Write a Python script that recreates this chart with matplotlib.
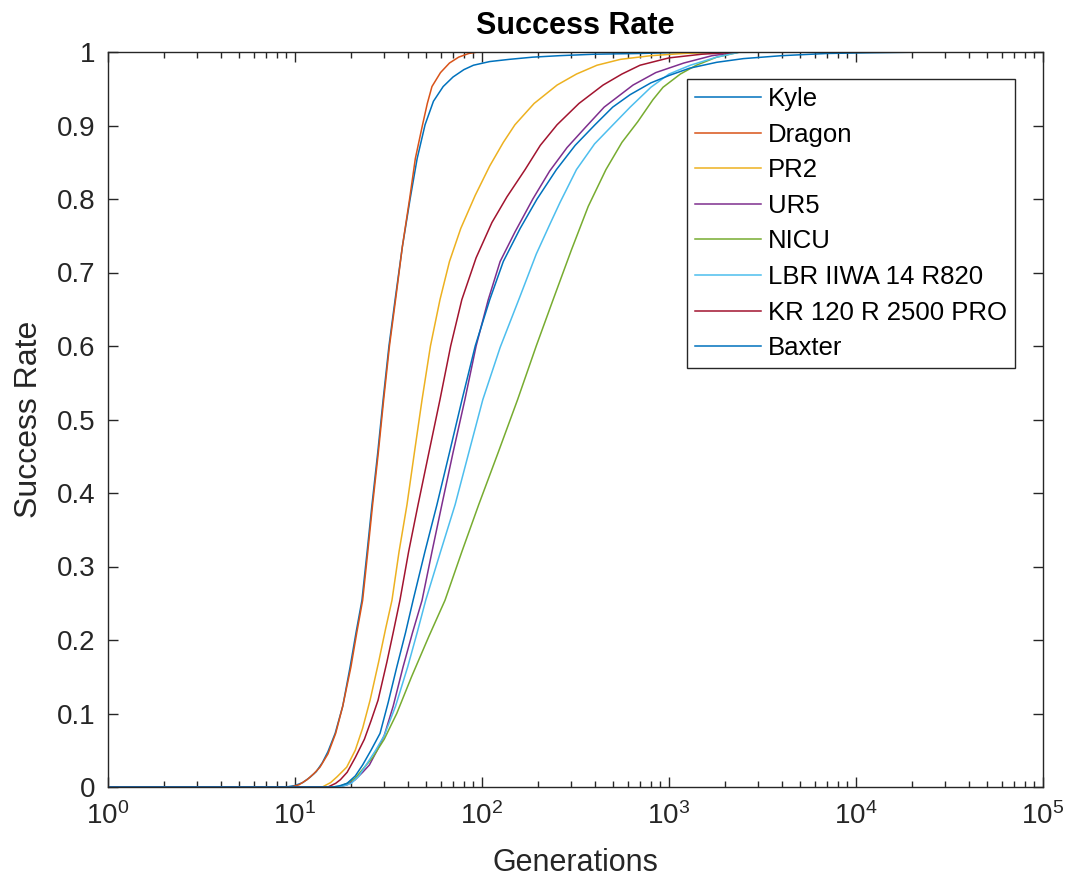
import matplotlib
matplotlib.use("Agg")
import matplotlib.pyplot as plt
from matplotlib.ticker import LogLocator, NullFormatter

plt.rcParams['font.family'] = ['Liberation Sans', 'DejaVu Sans']

labels = ["Kyle", "Dragon", "PR2", "UR5", "NICU", "LBR IIWA 14 R820", "KR 120 R 2500 PRO", "Baxter"]
colors = ["#0072BD", "#D95319", "#EDB120", "#7E2F8E", "#77AC30", "#4DBEEE", "#A2142F", "#0072BD"]

kyle_gen = [1, 9, 10, 11, 12, 13, 14, 15, 16.4, 18, 19.7, 21.2, 22.8, 24.3, 25.8, 27.7, 29.6, 31.8,
            34.3, 37.5, 41.2, 45, 49.6, 55, 62, 70, 80, 90, 110, 140, 187, 260, 400, 700, 1000, 2000, 5000, 25000]
kyle_rate = [0, 0, 0.002, 0.006, 0.013, 0.021, 0.033, 0.048, 0.073, 0.11, 0.163, 0.21, 0.254, 0.32, 0.384, 0.455,
             0.527, 0.60, 0.663, 0.735, 0.799, 0.855, 0.901, 0.933, 0.953, 0.966, 0.976, 0.982, 0.987, 0.990,
             0.993, 0.995, 0.997, 0.998, 0.999, 0.9995, 1.0, 1.0]

dragon_gen = [1, 9.5, 10.5, 11.6, 12.6, 13.6, 15, 16.5, 18, 19.9, 21.4, 23, 24.5, 26, 27.9, 29.8, 32, 34.5,
              37.5, 41, 44, 48, 51, 54, 60, 67, 75, 85, 95, 170]
dragon_rate = [0, 0, 0.003, 0.01, 0.018, 0.027, 0.045, 0.073, 0.11, 0.163, 0.21, 0.254, 0.32, 0.384, 0.455,
               0.527, 0.60, 0.663, 0.735, 0.80, 0.855, 0.90, 0.93, 0.953, 0.972, 0.985, 0.993, 0.998, 1.0, 1.0]

pr2_gen = [1, 14, 15.5, 16.8, 18.9, 21, 23, 25.2, 28, 30.5, 33, 36, 39.7, 43.5, 47.8, 53, 59.6, 67, 77, 92,
           110, 130, 150, 190, 252, 320, 412, 550, 800, 1200, 2000, 2400]
pr2_rate = [0, 0, 0.006, 0.014, 0.027, 0.05, 0.08, 0.118, 0.17, 0.215, 0.254, 0.32, 0.384, 0.455, 0.527, 0.60,
            0.663, 0.715, 0.76, 0.805, 0.845, 0.877, 0.901, 0.93, 0.955, 0.97, 0.982, 0.99, 0.995, 0.998, 1.0, 1.0]

ur5_gen = [1, 17, 19, 21, 23, 25, 27.5, 30, 33.5, 37.8, 42.5, 47.8, 54, 61, 70, 81, 93, 108, 125, 150, 187,
           230, 285, 356, 450, 642, 850, 1200, 1700, 2400]
ur5_rate = [0, 0, 0.003, 0.01, 0.02, 0.03, 0.05, 0.07, 0.11, 0.163, 0.21, 0.254, 0.32, 0.384, 0.455, 0.527,
            0.60, 0.663, 0.715, 0.755, 0.80, 0.838, 0.87, 0.897, 0.925, 0.955, 0.972, 0.985, 0.995, 1.0]

nicu_gen = [1, 17, 19, 21, 23, 26, 30, 35, 42, 52, 63.4, 78, 96, 122, 155, 195, 240, 300, 370, 460, 560,
            680, 820, 929, 1150, 1400, 1800, 2400]
nicu_rate = [0, 0, 0.005, 0.012, 0.024, 0.04, 0.065, 0.10, 0.15, 0.205, 0.254, 0.32, 0.384, 0.455, 0.527,
             0.60, 0.663, 0.73, 0.79, 0.84, 0.877, 0.905, 0.935, 0.952, 0.97, 0.982, 0.993, 1.0]

lbr_gen = [1, 17, 18.5, 20, 22, 24, 27, 30, 34.5, 40, 45, 50, 60, 71.8, 85, 101, 125, 160, 195, 230, 261,
           320, 400, 502, 620, 800, 1000, 1300, 1800, 2400]
lbr_rate = [0, 0, 0.002, 0.005, 0.015, 0.03, 0.05, 0.07, 0.11, 0.163, 0.21, 0.254, 0.32, 0.384, 0.455, 0.527,
            0.598, 0.668, 0.725, 0.765, 0.795, 0.84, 0.875, 0.901, 0.925, 0.952, 0.97, 0.982, 0.993, 1.0]

kr_gen = [1, 15, 16.5, 17.5, 19, 21, 23.5, 25.5, 27.8, 31, 33.5, 36.4, 40.5, 45.5, 52, 59.6, 68, 78, 93, 113,
          136, 170, 205, 252, 330, 444, 560, 700, 1000, 1500, 2400]
kr_rate = [0, 0, 0.005, 0.01, 0.02, 0.04, 0.065, 0.09, 0.118, 0.17, 0.21, 0.254, 0.32, 0.384, 0.455, 0.527,
           0.60, 0.663, 0.72, 0.768, 0.803, 0.84, 0.873, 0.901, 0.93, 0.955, 0.97, 0.982, 0.992, 0.997, 1.0]

baxter_gen = [1, 16, 17.5, 19, 21, 23, 25.5, 28.5, 31.5, 35, 39, 42.8, 49.5, 57.4, 67, 78.2, 92, 110, 130,
              160, 197, 250, 315, 402, 500, 620, 800, 1000, 1290, 1800, 2500, 4000, 7000, 12000, 25000]
baxter_rate = [0, 0, 0.002, 0.005, 0.015, 0.03, 0.05, 0.073, 0.115, 0.163, 0.21, 0.254, 0.32, 0.384, 0.455,
               0.527, 0.60, 0.663, 0.715, 0.76, 0.80, 0.84, 0.873, 0.901, 0.925, 0.942, 0.958, 0.968, 0.978,
               0.986, 0.991, 0.995, 0.998, 0.999, 1.0]

series = [(kyle_gen, kyle_rate), (dragon_gen, dragon_rate), (pr2_gen, pr2_rate),
          (ur5_gen, ur5_rate), (nicu_gen, nicu_rate), (lbr_gen, lbr_rate),
          (kr_gen, kr_rate), (baxter_gen, baxter_rate)]

yticks = [0, 0.1, 0.2, 0.3, 0.4, 0.5, 0.6, 0.7, 0.8, 0.9, 1]
ytick_labels = ["0", "0.1", "0.2", "0.3", "0.4", "0.5", "0.6", "0.7", "0.8", "0.9", "1"]

fig = plt.figure(figsize=(10.68, 8.85), dpi=100)
ax = fig.add_axes([108/1068, 1 - 787/885, (1043-108)/1068, (787-52)/885])

for (g, r), lab, c in zip(series, labels, colors):
    ax.plot(g, r, color=c, lw=1.1, label=lab)

ax.set_xscale('log')
ax.set_xlim(1, 1e5)
ax.set_ylim(0, 1)
ax.xaxis.set_major_locator(LogLocator(base=10, numticks=10))
ax.xaxis.set_minor_locator(LogLocator(base=10, subs=range(2, 10), numticks=20))
ax.xaxis.set_minor_formatter(NullFormatter())
ax.set_yticks(yticks)
ax.set_yticklabels(ytick_labels)

dark = "#262626"
for s in ax.spines.values():
    s.set_color(dark)
    s.set_linewidth(1.0)
ax.tick_params(which='both', direction='in', top=True, right=True, colors=dark, labelsize=20)
ax.tick_params(which='major', length=7, width=1)
ax.tick_params(which='minor', length=4, width=1)
ax.tick_params(axis='x', pad=11)
ax.tick_params(axis='y', pad=9)

ax.set_xlabel("Generations", fontsize=22, color=dark, labelpad=13)
ax.set_ylabel("Success Rate", fontsize=23, color=dark, labelpad=9)
ax.set_title("Success Rate", fontsize=22, fontweight='bold', color='black', pad=13)

leg = ax.legend(loc='upper right', bbox_to_anchor=(1015/1068, 1 - 79/885),
                bbox_transform=fig.transFigure, borderaxespad=0, fontsize=18.5,
                fancybox=False, framealpha=1, edgecolor=dark, handlelength=2.55,
                labelspacing=0.45, handletextpad=0.28, borderpad=0.32)
leg.get_frame().set_linewidth(1.0)

fig.savefig("out.png", dpi=100)
